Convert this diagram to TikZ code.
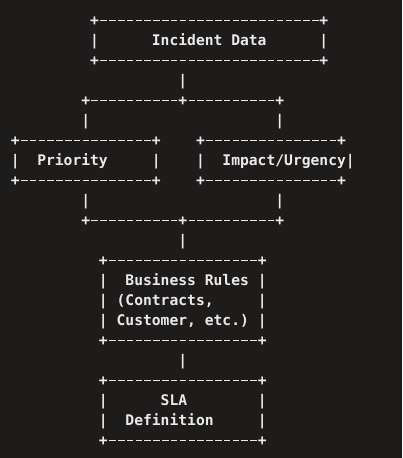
\documentclass[tikz,border=0pt]{standalone}
\usepackage{fontspec}
\newfontfamily\monofam{DejaVu Sans Mono}
\definecolor{bgc}{HTML}{1E1B1B}
\definecolor{fgc}{HTML}{EAEAEA}
\tikzset{
  ch/.style={inner sep=0pt, anchor=base west, text=fgc, font=\monofam\bfseries\fontsize{14.65}{16}\selectfont},
  word/.style={ch},
  run/.style={draw=fgc, line width=1.4pt, dash pattern=on 6.6pt off 2.22pt, dash phase=7.71pt}
}
% \putc[style]{name}{column}{row}{text}
\newcommand\putc[5][ch]{\node[#1] (#2) at ({10.59+8.82*#3},{20*#4+5.3}) {#5};}
\newcommand\hrun[2]{\draw[run] ([yshift=4.6pt]#1.base east) -- ([yshift=4.6pt]#2.base west);}
\begin{document}
\begin{tikzpicture}[x=1pt,y=-1pt]
\fill[bgc] (0,0) rectangle (402,458);
\useasboundingbox (0,0) rectangle (402,458);
\frenchspacing
% Incident Data box
\putc{t1l}{9}{1}{+}\putc{t1r}{35}{1}{+}\hrun{t1l}{t1r}
\putc{t2l}{9}{2}{|}\putc[word]{incident}{16}{2}{Incident Data}\putc{t2r}{35}{2}{|}
\putc{t3l}{9}{3}{+}\putc{t3r}{35}{3}{+}\hrun{t3l}{t3r}
\putc{v4}{19}{4}{|}
% split
\putc{s5l}{8}{5}{+}\putc{s5m}{19}{5}{+}\putc{s5r}{30}{5}{+}\hrun{s5l}{s5m}\hrun{s5m}{s5r}
\putc{v6l}{8}{6}{|}\putc{v6r}{30}{6}{|}
% Priority and Impact boxes
\putc{p7l}{0}{7}{+}\putc{p7r}{16}{7}{+}\hrun{p7l}{p7r}
\putc{i7l}{21}{7}{+}\putc{i7r}{37}{7}{+}\hrun{i7l}{i7r}
\putc{p8l}{0}{8}{|}\putc[word]{priority}{3}{8}{Priority}\putc{p8r}{16}{8}{|}
\putc{i8l}{21}{8}{|}\putc[word]{impact}{24}{8}{Impact/Urgency}\putc{i8r}{38}{8}{|}
\putc{p9l}{0}{9}{+}\putc{p9r}{16}{9}{+}\hrun{p9l}{p9r}
\putc{i9l}{21}{9}{+}\putc{i9r}{37}{9}{+}\hrun{i9l}{i9r}
\putc{v10l}{8}{10}{|}\putc{v10r}{30}{10}{|}
% merge
\putc{m11l}{8}{11}{+}\putc{m11m}{19}{11}{+}\putc{m11r}{30}{11}{+}\hrun{m11l}{m11m}\hrun{m11m}{m11r}
\putc{v12}{19}{12}{|}
% Business Rules box
\putc{b13l}{10}{13}{+}\putc{b13r}{28}{13}{+}\hrun{b13l}{b13r}
\putc{b14l}{10}{14}{|}\putc[word]{busa}{13}{14}{Business Rules}\putc{b14r}{28}{14}{|}
\putc{b15l}{10}{15}{|}\putc[word]{busb}{12}{15}{(Contracts,}\putc{b15r}{28}{15}{|}
\putc{b16l}{10}{16}{|}\putc[word]{busc}{12}{16}{Customer, etc.)}\putc{b16r}{28}{16}{|}
\putc{b17l}{10}{17}{+}\putc{b17r}{28}{17}{+}\hrun{b17l}{b17r}
\putc{v18}{19}{18}{|}
% SLA box
\putc{d19l}{10}{19}{+}\putc{d19r}{28}{19}{+}\hrun{d19l}{d19r}
\putc{d20l}{10}{20}{|}\putc[word]{sla}{17}{20}{SLA}\putc{d20r}{28}{20}{|}
\putc{d21l}{10}{21}{|}\putc[word]{defn}{13}{21}{Definition}\putc{d21r}{28}{21}{|}
\putc{d22l}{10}{22}{+}\putc{d22r}{28}{22}{+}\hrun{d22l}{d22r}
\end{tikzpicture}
\end{document}
